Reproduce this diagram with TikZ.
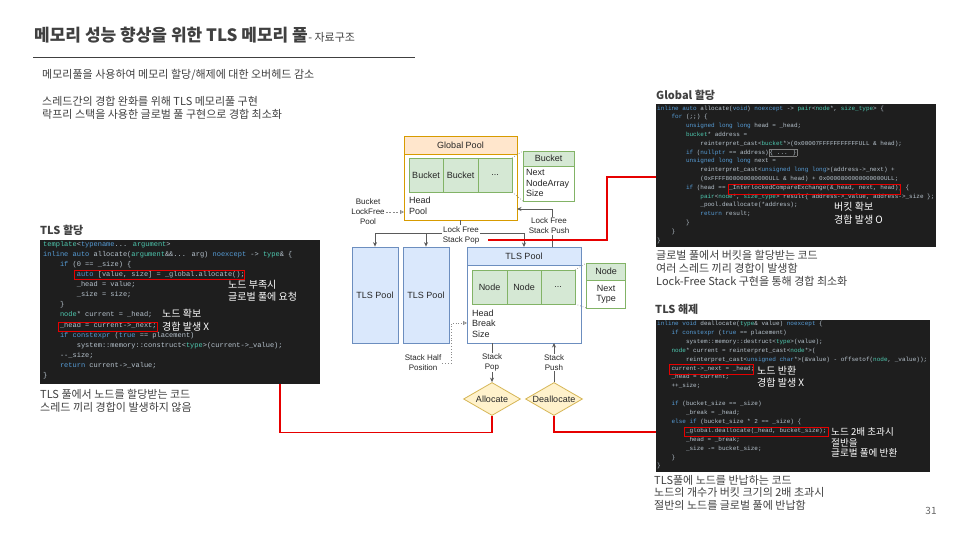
\documentclass[tikz,border=0pt]{standalone}
\usepackage{fontspec}
\usepackage{xcolor}
\usepackage{tikz}
\usetikzlibrary{shapes.geometric, arrows.meta, positioning, calc}

\setmainfont{Noto Sans CJK KR}
\newfontfamily\diagfont{Liberation Sans}
\newfontfamily\codefont{Liberation Mono}

\definecolor{txtgray}{HTML}{404040}
\definecolor{codebg}{HTML}{1E1E1E}
\definecolor{cplain}{HTML}{B8C4CE}
\definecolor{ckw}{HTML}{569CD6}
\definecolor{cty}{HTML}{4EC9B0}
\definecolor{cfoldc}{HTML}{808080}
\definecolor{orfill}{HTML}{FFE6CC}
\definecolor{ordraw}{HTML}{D79B00}
\definecolor{grfill}{HTML}{D5E8D4}
\definecolor{grdraw}{HTML}{82B366}
\definecolor{blfill}{HTML}{DAE8FC}
\definecolor{bldraw}{HTML}{6C8EBF}
\definecolor{yefill}{HTML}{FFF2CC}
\definecolor{yedraw}{HTML}{D6B656}
\definecolor{hlred}{HTML}{E60000}
\definecolor{lnk}{HTML}{5A5A5A}

\newcommand{\kwd}[1]{\textcolor{ckw}{#1}}
\newcommand{\typ}[1]{\textcolor{cty}{#1}}
\newcommand{\cind}{\hspace*{2.4em}}
\newcommand{\cfold}{{\setlength{\fboxsep}{0.5pt}\fcolorbox{cfoldc}{codebg}{\{ ... \}}}}

\begin{document}
\begin{tikzpicture}[x=1pt, y=-1pt,
    txt/.style={anchor=west, inner sep=0pt, text=txtgray, align=left},
    head/.style={txt, font=\bfseries\fontsize{11}{13}\selectfont},
    para/.style={txt, font=\fontsize{11}{13}\selectfont},
    codeblk/.style={rectangle, fill=codebg, anchor=north west, inner sep=0pt},
    code/.style={anchor=north west, inner sep=0pt, align=left, text=cplain},
    hl/.style={rectangle, draw=hlred, line width=0.9pt, inner sep=0pt},
    anno/.style={anchor=west, inner sep=0pt, align=left, text=white},
    redln/.style={draw=hlred, line width=1.1pt},
    dfont/.style={font=\diagfont\fontsize{9}{10.5}\selectfont, text=black!85},
    obox/.style={rectangle, draw=#1, fill=white, line width=0.8pt, inner sep=0pt, outer sep=0pt},
    cell/.style={rectangle, draw=grdraw, fill=grfill, line width=0.8pt, minimum height=34pt, inner sep=0pt, outer sep=0pt, dfont},
    pool/.style={rectangle, draw=bldraw, fill=blfill, line width=0.8pt, minimum width=46pt, minimum height=96pt, dfont},
    dec/.style={diamond, aspect=1.7, draw=yedraw, fill=yefill, line width=0.8pt, minimum width=57pt, minimum height=33pt, inner sep=0pt, dfont},
    lbl/.style={font=\diagfont\fontsize{8}{10}\selectfont, text=black!85, align=center, inner sep=1pt},
    arr/.style={-{Stealth[length=4.5pt, width=4pt]}, draw=lnk, line width=0.8pt},
    dotarr/.style={-{Triangle[open, length=4pt, width=4pt]}, draw=lnk!70, dotted, line width=0.8pt},
    dsharr/.style={-{Triangle[open, length=4pt, width=4pt]}, draw=lnk!70, dash pattern=on 2pt off 1.5pt, line width=0.8pt},
    dotln/.style={draw=lnk!70, dotted, line width=0.7pt}
]
\fill[white] (0,0) rectangle (960,540);
\useasboundingbox (0,0) rectangle (960,540);

% Title
\node[anchor=west, inner sep=0pt, text=txtgray, font=\bfseries\fontsize{17}{19}\selectfont] (title) at (34,35) {메모리 성능 향상을 위한 TLS 메모리 풀};
\node[anchor=base west, inner sep=0pt, text=txtgray, font=\fontsize{11}{13}\selectfont] (subtitle) at (title.base east) {- 자료구조};
\draw[txtgray, line width=0.8pt] (33,57) -- (415,57);

\node[para] (intro1) at (42,75) {메모리풀을 사용하여 메모리 할당/해제에 대한 오버헤드 감소};
\node[para] (intro2) at (42,107.5) {스레드간의 경합 완화를 위해 TLS 메모리풀 구현\\락프리 스택을 사용한 글로벌 풀 구현으로 경합 최소화};

% TLS allocate code
\node[head] (tlsalloc) at (40,230) {TLS 할당};
\node[codeblk, minimum width=280pt, minimum height=144pt] (tcode) at (40,240) {};
\node[code, font=\codefont\fontsize{7}{10.1}\selectfont] (tcodetxt) at (43,241) {%
\typ{template}<\kwd{typename}... \typ{argument}>\\
\kwd{inline auto} allocate(\typ{argument}\&\&... arg) \kwd{noexcept} -{}> \typ{type}\& \{\\
\cind\kwd{if} (0 == \_size) \{\\
\cind\cind\kwd{auto} [value, size] = \_global.allocate();\\
\cind\cind\_head = value;\\
\cind\cind\_size = size;\\
\cind\}\\
\cind\typ{node}* current = \_head;\\
\cind\_head = current-{}>\_next;\\
\cind\kwd{if constexpr} (\kwd{true} == placement)\\
\cind\cind system::memory::construct<\typ{type}>(current-{}>\_value);\\
\cind-{}-\_size;\\
\cind\kwd{return} current-{}>\_value;\\
\}};
\node[hl, minimum width=170pt, minimum height=9pt] (hl1) at (159,275) {};
\node[hl, minimum width=99pt, minimum height=9pt] (hl2) at (107.5,326.5) {};
\node[anno, font=\fontsize{10}{12}\selectfont] (an1) at (228,291) {노드 부족시\\글로벌 풀에 요청};
\node[anno, font=\fontsize{10}{13}\selectfont] (an2) at (162,320.5) {노드 확보\\경합 발생 X};
\node[para, anchor=west] (tcap) at (40,400.5) {TLS 풀에서 노드를 할당받는 코드\\스레드 끼리 경합이 발생하지 않음};

% Global allocate code
\node[head] (galloc) at (656,95) {Global 할당};
\node[codeblk, minimum width=280pt, minimum height=143pt] (gcode) at (656,104) {};
\node[code, font=\codefont\fontsize{6}{8.8}\selectfont] (gcodetxt) at (657,105.5) {%
\kwd{inline auto} allocate(\kwd{void}) \kwd{noexcept} -{}> \typ{pair}<\typ{node}*, \typ{size\_type}> \{\\
\cind\kwd{for} (;;) \{\\
\cind\cind\kwd{unsigned long long} head = \_head;\\
\cind\cind\typ{bucket}* address =\\
\cind\cind\cind reinterpret\_cast<\typ{bucket}*>(0x00007FFFFFFFFFFFULL \& head);\\
\cind\cind\kwd{if} (\kwd{nullptr} == address)\cfold\\
\cind\cind\kwd{unsigned long long} next =\\
\cind\cind\cind reinterpret\_cast<\kwd{unsigned long long}>(address-{}>\_next) +\\
\cind\cind\cind(0xFFFF800000000000ULL \& head) + 0x0000800000000000ULL;\\
\cind\cind\kwd{if} (head == \_InterlockedCompareExchange(\&\_head, next, head)) \{\\
\cind\cind\cind\typ{pair}<\typ{node}*, \typ{size\_type}> result\{ address-{}>\_value, address-{}>\_size \};\\
\cind\cind\cind\_pool.deallocate(*address);\\
\cind\cind\cind\kwd{return} result;\\
\cind\cind\}\\
\cind\}\\
\}};
\node[hl, minimum width=172pt, minimum height=10pt] (hl3) at (814,189) {};
\node[anno, font=\fontsize{10}{13}\selectfont] (an3) at (834,213.5) {버킷 확보\\경합 발생 O};
\node[para, below=3pt of gcode.south west, anchor=north west] (gcap) {글로벌 풀에서 버킷을 할당받는 코드\\여러 스레드 끼리 경합이 발생함\\Lock-Free Stack 구현을 통해 경합 최소화};

% TLS deallocate code
\node[head] (tlsfree) at (655,309) {TLS 해제};
\node[codeblk, minimum width=274pt, minimum height=152pt] (dcode) at (656,320) {};
\node[code, font=\codefont\fontsize{6}{8.9}\selectfont] (dcodetxt) at (657,321) {%
\kwd{inline void} deallocate(\typ{type}\& value) \kwd{noexcept} \{\\
\cind\kwd{if constexpr} (\kwd{true} == placement)\\
\cind\cind system::memory::destruct<\typ{type}>(value);\\
\cind\typ{node}* current = reinterpret\_cast<\typ{node}*>(\\
\cind\cind reinterpret\_cast<\kwd{unsigned char}*>(\&value) - offsetof(\typ{node}, \_value));\\
\cind current-{}>\_next = \_head;\\
\cind\_head = current;\\
\cind++\_size;\\
\mbox{}\\
\cind\kwd{if} (bucket\_size == \_size)\\
\cind\cind\_break = \_head;\\
\cind\kwd{else if} (bucket\_size * 2 == \_size) \{\\
\cind\cind\_global.deallocate(\_head, bucket\_size);\\
\cind\cind\_head = \_break;\\
\cind\cind\_size -= bucket\_size;\\
\cind\}\\
\}};
\node[hl, minimum width=84pt, minimum height=10pt] (hl4) at (711,369) {};
\node[hl, minimum width=144pt, minimum height=9pt] (hl5) at (756,432) {};
\node[anno, font=\fontsize{10}{11.6}\selectfont] (an4) at (757,376.5) {노드 반환\\경합 발생 X};
\node[anno, font=\fontsize{9.6}{10.6}\selectfont] (an5) at (831,442.5) {노드 2배 초과시\\절반을\\글로벌 풀에 반환};
\node[para, anchor=west, font=\fontsize{11}{12.5}\selectfont] (dcap) at (654,492.5) {TLS풀에 노드를 반납하는 코드\\노드의 개수가 버킷 크기의 2배 초과시\\절반의 노드를 글로벌 풀에 반납함};

\node[text=txtgray!80, inner sep=0pt, font=\fontsize{10}{12}\selectfont] (pgno) at (931,511) {31};

% Global pool
\node[obox=ordraw, minimum width=113pt, minimum height=84pt] (gpool) at (460.5,178) {};
\node[obox=ordraw, fill=orfill, minimum width=113pt, minimum height=18pt, anchor=north, dfont] (gphead) at (gpool.north) {Global Pool};
\node[cell, minimum width=34pt] (bk1) at (426,175) {Bucket};
\node[cell, minimum width=35pt, right=0pt of bk1] (bk2) {Bucket};
\node[cell, minimum width=34pt, right=0pt of bk2] (bk3) {...};
\node[dfont, align=left, anchor=north west, inner sep=0pt] (gpinfo) at (409,197) {Head\\Pool};

\node[obox=grdraw, minimum width=51pt, minimum height=50pt] (bkt) at (548.5,176) {};
\node[obox=grdraw, fill=grfill, minimum width=51pt, minimum height=15pt, anchor=north, dfont] (bkthead) at (bkt.north) {Bucket};
\node[dfont, align=left, anchor=north west, inner sep=0pt] (bktinfo) at (526,169.5) {Next\\NodeArray\\Size};
\draw[dotln] (bk3.north east) -- (bkt.north west) (bk3.south east) -- (bkt.south west);

\node[lbl] (bklf) at (368,212) {Bucket\\LockFree\\Pool};
\draw[dsharr] (bklf.east) -- (bklf.east -| gpool.west);

% TLS pools
\node[pool] (tls1) at (375,295) {TLS Pool};
\node[pool] (tls2) at (426,295) {TLS Pool};
\node[obox=bldraw, minimum width=114pt, minimum height=96pt] (tpool) at (524,295) {};
\node[obox=bldraw, fill=blfill, minimum width=114pt, minimum height=18pt, anchor=north, dfont] (tphead) at (tpool.north) {TLS Pool};
\node[cell, minimum width=35pt] (nd1) at (489.5,287) {Node};
\node[cell, minimum width=34pt, right=0pt of nd1] (nd2) {Node};
\node[cell, minimum width=34pt, right=0pt of nd2] (nd3) {...};
\node[dfont, align=left, anchor=north west, inner sep=0pt] (tpinfo) at (472,309.5) {Head\\Break\\Size};

\node[obox=grdraw, minimum width=39pt, minimum height=45pt] (ndt) at (606,285.5) {};
\node[obox=grdraw, fill=grfill, minimum width=39pt, minimum height=17pt, anchor=north, dfont] (ndthead) at (ndt.north) {Node};
\node[dfont, align=center, inner sep=0pt] (ndtinfo) at (606,294.5) {Next\\Type};
\draw[dotln] (nd3.north east) -- (ndt.north west) (nd3.south east) -- (ndt.south west);

\node[dec] (alloc) at (492,399) {Allocate};
\node[dec] (dealloc) at (554,399) {Deallocate};

% Arrows
\draw[lnk, line width=0.8pt] (gpool.south) -- ++(0,13) coordinate (popsplit);
\draw[arr] (popsplit) -| (tls1.north);
\draw[arr] (popsplit) -| (tls2.north);
\draw[arr] (popsplit) -| (tpool.north);
\node[lbl, fill=white] (lfpop) at (461,235) {Lock Free\\Stack Pop};
\draw[arr] ([xshift=28pt]tpool.north) |- ($(gpool.east)+(0,31)$);
\node[lbl, fill=white] (lfpush) at (549,226) {Lock Free\\Stack Push};

\node[lbl] (shalf) at (423,363) {Stack Half\\Position};
\draw[dotarr] (shalf.east) -- ++(9,0) |- ($(tpool.west)+(0,28)$);

\draw[arr] (alloc.north |- tpool.south) -- node[lbl, fill=white] (spop) {Stack\\Pop} (alloc.north);
\draw[arr] (dealloc.north) -- node[lbl, fill=white] (spush) {Stack\\Push} (dealloc.north |- tpool.south);

% Red links to code
\coordinate (tout) at ($(tcode.south west)+(240,0)$);
\draw[redln] (tout) -- ++(0,48) -| (alloc.south);
\draw[redln] (dealloc.south) |- (hl5.west -| dcode.west);
\coordinate (popred) at (488,240);
\coordinate (rturn) at (607,177);
\draw[redln] (popred) -| (rturn) -- (rturn -| gcode.west);
\end{tikzpicture}
\end{document}
